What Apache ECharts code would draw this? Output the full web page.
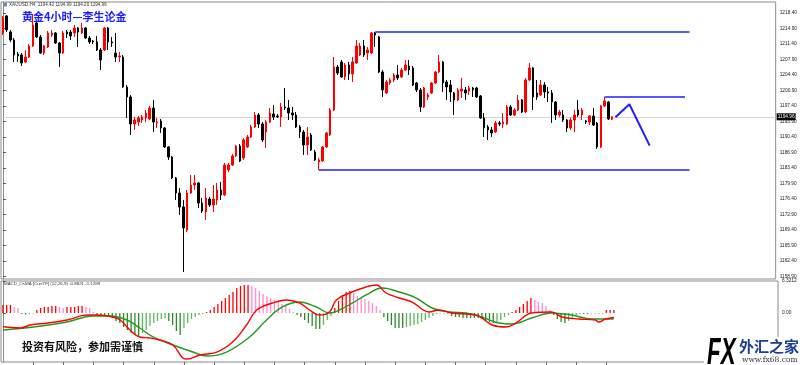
<!DOCTYPE html>
<html><head><meta charset="utf-8">
<script src="https://cdn.jsdelivr.net/npm/echarts@6/dist/echarts.min.js"></script>
<style>html,body{margin:0;padding:0;background:#fff}#c{width:800px;height:365px}</style>
</head><body><div id="c"></div>
<script>
const symbolTitle = 'XAUUSD,H4  1194.42 1194.99 1194.20 1194.96';
const chartTitle = '黄金4小时—李生论金';
const riskNote = '投资有风险，参加需谨慎';
const macdTitle = 'MACD_OsMA [CurrTF] (12,26,9) -0.8821 -1.1289';
const priceTicks = [1218.40,1214.90,1211.40,1207.90,1204.40,1200.90,1197.40,1193.90,1190.40,1186.90,1183.40,1179.90,1176.40,1172.90,1169.40,1165.90,1162.40,1158.90];
const macdTicks = [6.3212, 0];
const lastPrice = 1194.96;
const slotCount = 206; // bar slots on the time axis (incl. right margin)

// [open, close, low, high]
const candles = [
[1213.89,1217.28,1213.44,1217.73],[1217.73,1214.57,1214.11,1217.95],[1214.11,1212.31,1211.86,1214.57],[1212.31,1208.92,1207.34,1212.76],
[1209.15,1208.70,1207.34,1209.60],[1208.92,1207.11,1206.44,1209.37],[1207.34,1208.47,1207.11,1210.05],[1208.47,1210.95,1208.24,1211.40],
[1210.95,1215.69,1210.73,1218.18],[1216.15,1212.99,1212.76,1216.37],[1212.99,1209.37,1209.15,1213.44],[1209.37,1210.95,1208.92,1211.18],
[1210.73,1213.89,1210.50,1214.34],[1213.44,1213.89,1212.99,1214.57],[1213.89,1211.63,1211.40,1214.11],[1211.63,1209.37,1206.21,1211.86],
[1209.37,1213.89,1209.15,1214.34],[1214.11,1213.66,1212.76,1214.57],[1214.11,1213.21,1212.31,1214.57],[1213.89,1215.02,1212.99,1215.69],
[1215.02,1214.11,1210.73,1215.24],[1213.89,1215.02,1213.66,1216.15],[1215.02,1212.76,1212.53,1215.24],[1212.76,1211.86,1211.40,1213.21],
[1212.08,1211.86,1211.40,1212.31],[1211.86,1210.05,1209.82,1213.21],[1210.05,1207.79,1205.53,1210.50],[1210.05,1215.02,1209.82,1215.24],
[1215.02,1211.86,1210.05,1215.24],[1211.86,1211.63,1210.73,1212.99],[1209.37,1208.47,1207.34,1213.89],[1208.47,1208.70,1207.34,1209.60],
[1208.47,1201.70,1201.47,1208.92],[1201.70,1199.44,1194.70,1202.15],[1199.44,1193.34,1190.86,1199.89],[1193.34,1194.24,1191.99,1194.92],
[1193.79,1194.70,1192.89,1195.15],[1194.24,1194.92,1193.57,1195.37],[1194.70,1195.82,1193.79,1196.50],[1194.47,1196.95,1194.24,1197.41],
[1196.95,1193.79,1191.53,1198.76],[1193.57,1193.79,1192.44,1194.70],[1194.02,1192.44,1191.31,1194.47],[1192.44,1188.15,1187.92,1192.66],
[1188.15,1185.89,1185.21,1188.37],[1185.89,1181.15,1180.92,1186.12],[1181.15,1177.76,1176.18,1181.37],[1177.76,1174.60,1172.79,1178.89],
[1174.60,1169.86,1159.92,1176.18],[1169.41,1177.76,1168.95,1178.44],[1177.76,1179.57,1177.53,1181.82],[1179.57,1180.02,1178.44,1181.82],
[1180.02,1175.50,1174.37,1180.24],[1175.50,1173.70,1173.24,1176.63],[1173.47,1176.63,1171.66,1178.89],[1176.41,1175.05,1174.60,1176.86],
[1175.05,1176.41,1173.47,1179.57],[1176.18,1178.44,1175.05,1180.02],[1178.44,1177.31,1176.18,1180.24],[1177.31,1184.08,1177.08,1184.53],
[1182.95,1184.08,1182.50,1184.53],[1184.08,1186.12,1183.86,1186.57],[1186.12,1188.37,1185.89,1188.60],[1188.37,1184.99,1184.76,1188.82],
[1185.66,1189.73,1185.21,1190.18],[1188.15,1190.41,1187.92,1190.86],[1190.41,1192.66,1190.18,1193.11],[1192.66,1195.37,1192.44,1196.05],
[1195.37,1193.34,1192.44,1195.82],[1193.34,1189.73,1189.28,1193.79],[1191.53,1193.79,1187.92,1194.24],[1193.79,1195.82,1193.57,1196.95],
[1195.60,1194.92,1194.24,1197.63],[1195.15,1194.92,1194.70,1195.60],[1194.92,1197.18,1192.66,1198.08],[1197.18,1196.95,1196.50,1201.47],
[1196.95,1195.82,1194.24,1198.76],[1195.82,1195.37,1194.24,1197.18],[1195.37,1192.66,1192.44,1196.05],[1192.66,1191.53,1190.18,1193.11],
[1191.53,1188.60,1186.34,1191.99],[1188.60,1190.41,1186.34,1192.66],[1190.86,1187.47,1187.24,1191.31],[1187.02,1185.21,1184.99,1187.47],
[1184.76,1185.21,1182.95,1185.66],[1184.99,1188.15,1184.76,1188.37],[1188.15,1191.31,1187.92,1191.53],[1190.86,1196.50,1190.63,1196.95],
[1196.50,1206.21,1196.28,1208.47],[1206.21,1204.86,1204.40,1206.66],[1207.34,1203.95,1203.73,1207.79],[1203.95,1206.66,1203.28,1207.11],
[1206.66,1204.63,1203.28,1207.34],[1204.63,1207.34,1202.82,1208.47],[1207.11,1210.95,1206.89,1212.31],[1208.92,1210.95,1208.70,1211.63],
[1210.95,1208.92,1208.47,1212.31],[1209.37,1210.05,1207.79,1210.73],[1209.37,1213.89,1209.15,1214.11],[1213.89,1213.44,1210.73,1214.11],
[1212.99,1205.08,1204.86,1213.21],[1205.08,1201.02,1199.44,1205.53],[1200.34,1202.82,1200.11,1203.28],[1202.60,1203.28,1202.15,1203.73],
[1203.28,1204.40,1202.82,1204.86],[1204.40,1203.73,1203.28,1206.66],[1203.95,1205.53,1203.73,1205.99],[1205.53,1206.66,1205.31,1207.79],
[1206.44,1205.53,1204.40,1207.79],[1205.99,1202.15,1201.92,1206.44],[1202.60,1201.02,1200.57,1202.82],[1201.02,1197.18,1196.05,1201.47],
[1197.18,1201.47,1196.95,1201.70],[1199.44,1199.89,1198.76,1200.34],[1200.34,1202.60,1200.11,1202.82],[1202.60,1205.08,1202.37,1205.31],
[1205.08,1207.34,1204.86,1208.92],[1207.34,1202.60,1200.57,1207.57],[1202.82,1201.70,1198.76,1203.28],[1202.15,1200.57,1198.31,1203.28],
[1200.34,1198.76,1195.37,1200.57],[1198.76,1201.02,1198.53,1201.47],[1200.79,1201.24,1199.21,1203.73],[1201.02,1200.34,1198.76,1201.70],
[1200.79,1201.47,1199.89,1201.92],[1201.47,1201.02,1199.44,1201.70],[1201.47,1199.44,1199.21,1201.70],[1199.66,1194.70,1194.47,1199.89],
[1194.70,1192.44,1190.41,1195.82],[1192.66,1191.99,1189.73,1193.11],[1191.99,1191.31,1190.41,1192.66],[1191.53,1193.57,1191.31,1194.02],
[1193.57,1193.34,1192.89,1194.02],[1193.34,1193.79,1192.44,1195.82],[1193.34,1197.18,1193.11,1197.63],[1197.18,1195.37,1195.15,1197.63],
[1195.37,1196.50,1195.15,1196.95],[1196.50,1198.76,1196.28,1199.89],[1198.76,1196.05,1195.82,1198.99],[1196.05,1203.28,1195.82,1203.73],
[1203.28,1205.99,1203.05,1207.11],[1205.99,1199.44,1196.50,1206.21],[1200.34,1199.44,1198.76,1203.28],[1199.89,1202.15,1199.66,1203.28],
[1202.15,1200.57,1199.21,1202.82],[1200.57,1200.34,1198.31,1201.70],[1200.34,1198.31,1193.57,1201.02],[1198.31,1195.37,1194.24,1198.53],
[1195.37,1196.05,1194.92,1196.50],[1195.37,1194.24,1193.79,1196.50],[1194.24,1192.44,1191.53,1194.47],[1192.44,1194.24,1191.99,1194.70],
[1194.24,1195.37,1191.53,1196.50],[1196.50,1195.37,1194.92,1198.76],[1195.37,1196.50,1194.24,1196.95],[1194.02,1193.79,1193.34,1194.24],
[1193.79,1195.15,1193.11,1195.37],[1195.15,1193.11,1192.89,1196.95],[1193.57,1188.15,1187.70,1193.79],[1188.15,1197.41,1187.92,1197.63],
[1197.41,1198.53,1197.18,1199.44],[1198.31,1194.47,1194.24,1198.53],[1194.42,1194.96,1194.20,1194.99]
];

// OsMA histogram, one value per bar
const osma = [
1.58,1.58,1.58,1.19,0.99,-0.2,-0.3,-0.2,-0.1,0.59,
0.99,1.19,1.19,1.38,1.38,1.19,0.99,1.19,1.19,1.19,
1.38,1.38,1.19,0.99,0.2,-0.4,-0.4,-0.59,-0.59,-0.99,
-1.58,-1.98,-2.77,-3.36,-3.95,-4.35,-4.55,-3.95,-3.36,-2.57,
-1.98,-1.58,-1.19,-0.99,-1.58,-2.37,-3.56,-4.35,-2.96,-1.98,
-1.19,-0.79,-0.4,-0.2,0.2,0.59,1.19,1.78,2.37,2.96,
3.56,4.15,4.94,5.34,5.53,5.53,5.34,4.94,4.35,3.75,
3.36,2.96,2.57,2.17,1.78,1.38,0.79,0.2,-0.4,-0.79,
-1.38,-1.98,-2.57,-3.16,-3.16,-2.37,-1.38,-0.59,0.99,2.37,
3.56,4.15,4.35,3.95,3.36,2.96,2.77,2.37,1.98,1.38,
0.59,-0.79,-1.58,-2.37,-2.96,-2.96,-2.96,-2.77,-2.57,-2.37,
-2.17,-1.78,-1.38,-0.99,-0.59,-0.2,-0.1,-0.1,-0.1,-0.59,
-0.79,-0.79,-0.99,-0.99,-0.99,-0.99,-0.99,-1.19,-1.58,-1.78,
-1.98,-1.78,-1.38,-0.79,-0.4,0.2,0.59,1.19,1.78,2.37,
2.96,2.57,2.17,1.98,1.38,0.59,-0.4,-1.19,-1.78,-1.98,
-1.58,-0.99,-0.4,-0.2,-0.2,-0.2,-0.1,-0.1,-0.1,-0.1,
0.59,0.59,0.59
];

// [bar index, value]
const macdLine = [[0,-2.67],[4.6,-2.96],[7.3,-2.37],[11.8,-1.98],[17,-1.38],[22.3,-0.4],[25,-0.4],[29.2,-0.79],[31.1,-1.38],[33.7,-3.36],[36.3,-4.74],[39,-4.94],[41.6,-5.34],[45.1,-6.32],[47.7,-8.89],[48.8,-9.09],[52.2,-8.3],[56.7,-7.71],[60.9,-5.73],[64.6,-2.37],[67.3,0.59],[71.5,1.98],[75.2,2.57],[78.6,1.98],[81.3,0.59],[83.9,-0.4],[86.6,0.2],[88.4,2.57],[91.9,3.95],[96.3,5.14],[99,5.53],[101.6,3.95],[105.1,2.96],[108.5,2.17],[113,0.2],[115.6,0.59],[119.1,0],[125.4,-0.4],[129.7,-2.37],[133.4,-2.77],[136,-1.98],[140.2,0],[145.5,0.2],[148.2,-0.79],[152.7,-1.19],[157.1,-1.38],[157.9,-1.78],[159.8,-1.19],[162,-0.88]];
const signalLine = [[0,-3.36],[8.1,-2.77],[17,-1.78],[23.9,-0.59],[28.4,-0.59],[32.9,-1.38],[36.3,-2.96],[39.8,-4.74],[45.1,-6.32],[50.4,-7.71],[54.1,-8.5],[59.3,-7.71],[65.4,-4.74],[69.9,-1.38],[74.1,1.19],[78.6,2.17],[83.1,1.19],[86.6,0],[89.2,0.59],[92.7,1.98],[96.3,3.56],[100.6,4.94],[105.1,4.15],[109.6,2.96],[113.8,0.99],[118.3,0.2],[122.8,0],[127,-0.79],[131.5,-1.98],[135,-2.17],[140.2,-0.99],[145.5,0],[150.8,-0.4],[156.1,-1.19],[159.8,-1.19],[162,-1.13]];

// drawn lines: [bar index, price]
const resistanceLine = [[99,1214.11],[182.6,1214.11]];
const rangeTopLine = [[160,1199.44],[181.4,1199.44]];
const supportLine = [[84,1182.95],[182.6,1182.95]];
const forecastPath = [[162.9,1194.85],[166.6,1197.79],[172.0,1188.44]];

const slots = [];
for (let i = 0; i < slotCount; i++) slots.push(String(i));
const timeTicks = [];
for (let i = 8; i <= 160; i += 8) timeTicks.push(i);

const chart = echarts.init(document.getElementById('c'), null, {renderer: 'canvas'});
const lineFont = 'Liberation Sans';
const blue = '#1f1fff';
function trend(data, w) {
  return {type: 'line', xAxisIndex: 1, yAxisIndex: 0, data: data, symbol: 'none',
    lineStyle: {color: blue, width: w}, silent: true, z: 5};
}
chart.setOption({
  animation: false,
  backgroundColor: '#ffffff',
  grid: [
    {left: 1, top: 2, width: 777, height: 277, show: true, borderColor: '#8c8c8c', borderWidth: 1},
    {left: 1, top: 281, width: 777, height: 81, show: true, borderColor: '#8c8c8c', borderWidth: 1}
  ],
  xAxis: [
    {type: 'category', gridIndex: 0, data: slots, show: false},
    {type: 'value', gridIndex: 0, min: -0.5, max: slotCount - 0.5, show: false},
    {type: 'category', gridIndex: 1, data: slots, show: false},
    {type: 'value', gridIndex: 1, min: -0.5, max: slotCount - 0.5, position: 'bottom',
      axisLine: {show: false}, splitLine: {show: false}, axisLabel: {show: false},
      axisTick: {show: true, customValues: timeTicks, length: 3, lineStyle: {color: '#666'}}}
  ],
  yAxis: [
    {type: 'value', gridIndex: 0, position: 'right', min: 1158.335, max: 1220.884, scale: true,
      splitLine: {show: false},
      axisLine: {show: true, lineStyle: {color: '#8c8c8c'}},
      axisTick: {show: true, customValues: priceTicks, length: 3, lineStyle: {color: '#555'}},
      axisLabel: {customValues: priceTicks, formatter: v => v.toFixed(2), fontSize: 4.8, color: '#222', margin: 4, fontFamily: lineFont}},
    {type: 'value', gridIndex: 1, position: 'right', min: -9.68, max: 6.3212,
      splitLine: {show: false},
      axisLine: {show: true, lineStyle: {color: '#8c8c8c'}},
      axisTick: {show: true, customValues: macdTicks, length: 3, lineStyle: {color: '#555'}},
      axisLabel: {customValues: macdTicks, formatter: v => (v === 0 ? '0.00' : v.toFixed(4)), fontSize: 4.8, color: '#222', margin: 4, fontFamily: lineFont}}
  ],
  series: [
    {type: 'candlestick', xAxisIndex: 0, yAxisIndex: 0, data: candles, barWidth: 2,
      itemStyle: {color: '#ff0000', color0: '#000000', borderColor: '#ff0000', borderColor0: '#000000', borderWidth: 1},
      markLine: {silent: true, symbol: 'none', data: [{yAxis: lastPrice}], z: 1,
        lineStyle: {color: '#d2d2d2', type: 'solid', width: 1},
        label: {position: 'end', formatter: p => Number(p.value).toFixed(2), backgroundColor: '#000', color: '#fff',
          fontSize: 4.8, padding: [1, 1, 1, 1], distance: 1, fontFamily: lineFont}}},
    trend(resistanceLine, 1.5),
    trend(rangeTopLine, 1.5),
    trend(supportLine, 1.5),
    trend(forecastPath, 2),
    {type: 'bar', xAxisIndex: 2, yAxisIndex: 1, data: osma, barWidth: 1.3, silent: true,
      itemStyle: {color: p => {
        const v = osma[p.dataIndex];
        const prev = p.dataIndex > 0 ? osma[p.dataIndex - 1] : v;
        if (v >= 0) return v >= prev ? '#ff0000' : '#ff8ccf';
        return v <= prev ? '#2a8a2a' : '#5cb85c';
      }}},
    {type: 'line', xAxisIndex: 3, yAxisIndex: 1, data: signalLine, symbol: 'none', smooth: 0.4,
      lineStyle: {color: '#1f9a1f', width: 1.4}, silent: true, z: 4},
    {type: 'line', xAxisIndex: 3, yAxisIndex: 1, data: macdLine, symbol: 'none', smooth: 0.4,
      lineStyle: {color: '#ff0000', width: 1.4}, silent: true, z: 5}
  ],
  graphic: [
    {type: 'text', left: 9, top: 2.5, style: {text: symbolTitle, fontSize: 4.6, fill: '#333', fontFamily: lineFont}},
    {type: 'rect', left: 3, top: 2.5, shape: {width: 4, height: 4}, style: {fill: '#6a8ac0'}},
    {type: 'text', left: 22, top: 11.5, style: {text: chartTitle, fontSize: 11, fontWeight: 'bold', fill: blue, fontFamily: 'Noto Sans CJK SC'}},
    {type: 'text', left: 4, top: 282, style: {text: macdTitle, fontSize: 4.4, fill: '#333', fontFamily: lineFont}},
    {type: 'text', left: 22, top: 341, style: {text: riskNote, fontSize: 11, fontWeight: 'bold', fill: '#111', fontFamily: 'Noto Sans CJK SC'}},
    {type: 'rect', left: 704, top: 337, shape: {width: 96, height: 28}, style: {fill: '#ffffff'}, z: 100},
    {type: 'text', x: 707, y: 336, scaleX: 0.62, z: 101,
      style: {text: 'FX', fontSize: 36, fontWeight: 'bold', fontStyle: 'italic', fontFamily: lineFont,
        fill: {type: 'linear', x: 0, y: 0, x2: 0, y2: 1, colorStops: [{offset: 0, color: '#7aa8f0'}, {offset: 1, color: '#2d5fc4'}]}}},
    {type: 'text', x: 739, y: 339, z: 101, style: {text: '外汇之家', fontSize: 15, fontWeight: 'bold', fill: '#1d3d8f', fontFamily: 'Noto Sans CJK SC'}},
    {type: 'text', x: 742, y: 356.5, z: 101, style: {text: 'www.fx68.com', fontSize: 7.5, fill: '#334', fontFamily: 'DejaVu Serif'}}
  ]
});
</script></body></html>
